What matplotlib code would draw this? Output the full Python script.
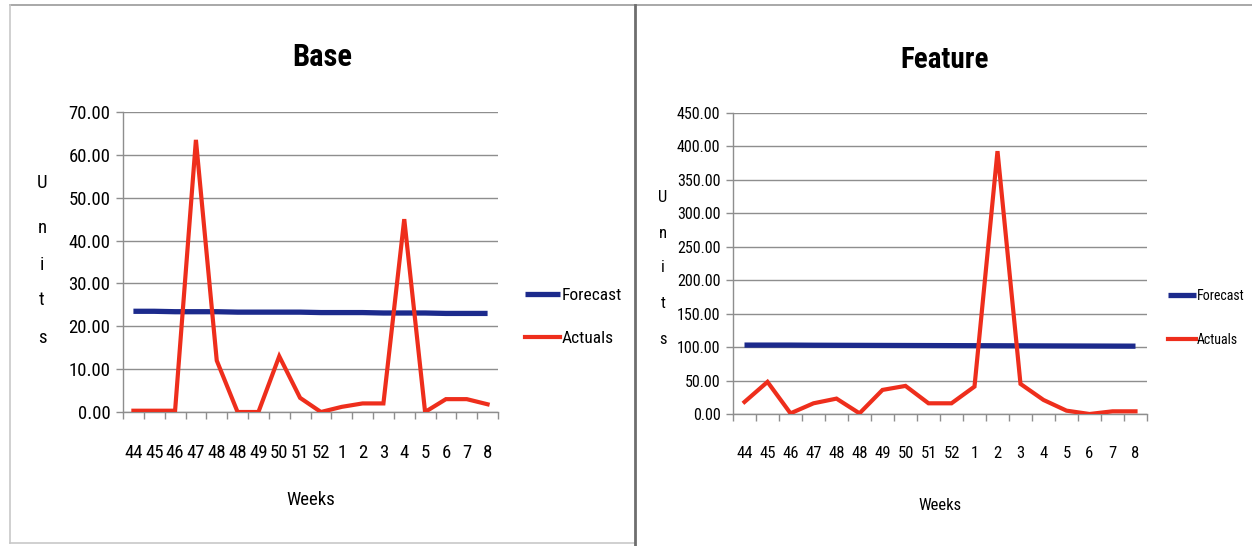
import matplotlib.pyplot as plt
from matplotlib.lines import Line2D

weeks = ['44', '45', '46', '47', '48', '48', '49', '50', '51', '52',
         '1', '2', '3', '4', '5', '6', '7', '8']

base_forecast = [23.5, 23.5, 23.4, 23.4, 23.4, 23.3, 23.3, 23.3, 23.3,
                 23.2, 23.2, 23.2, 23.1, 23.1, 23.1, 23.0, 23.0, 23.0]
base_actuals = [0.3, 0.3, 0.3, 63.5, 12.0, 0.0, 0.0, 13.0, 3.3, 0.0,
                1.2, 2.0, 2.0, 45.0, 0.0, 3.0, 3.0, 1.8]

feature_forecast = [103, 103, 103, 102.8, 102.7, 102.6, 102.5, 102.4, 102.3,
                    102.2, 102.1, 102.0, 101.9, 101.8, 101.7, 101.6, 101.5, 101.4]
feature_actuals = [18, 48, 1, 16, 23, 1, 36, 42, 16, 16,
                   41, 393, 45, 21, 5, 0, 4, 4]

base_yticks = [0, 10, 20, 30, 40, 50, 60, 70]
feature_yticks = [0, 50, 100, 150, 200, 250, 300, 350, 400, 450]

NARROW = ['Roboto Condensed', 'Open Sans Condensed', 'DejaVu Sans Condensed',
          'Lato', 'DejaVu Sans']
BLUE = '#1c2a8c'
RED = '#ee2e1c'
GRID = '#8e8e8e'

W, H = 1252, 546
fig = plt.figure(figsize=(W / 100, H / 100), dpi=100)
fig.patch.set_facecolor('white')


def px_axes(x0, x1, ytop, ybot):
    return fig.add_axes([x0 / W, (H - ybot) / H, (x1 - x0) / W, (ybot - ytop) / H])


def draw_panel(ax, title, forecast, actuals, yticks, xfs, yfs, title_fs, title_xy,
               weeks_y, units_x, units_ys, legend_x, legend_fs, legend_space):
    x = list(range(len(weeks)))
    ax.plot(x, forecast, color=BLUE, lw=3.8, solid_capstyle='butt',
            label='Forecast', zorder=3)
    ax.plot(x, actuals, color=RED, lw=3.0, solid_joinstyle='miter',
            label='Actuals', zorder=4)

    ax.set_xlim(-0.5, len(weeks) - 0.5)
    ax.set_ylim(yticks[0], yticks[-1])
    ax.set_yticks(yticks)
    ax.set_yticklabels(['%.2f' % v for v in yticks], family=NARROW, fontsize=yfs)
    ax.set_xticks(x)
    ax.set_xticklabels(weeks, family=NARROW, fontsize=xfs)
    ax.set_xticks([i - 0.5 for i in range(len(weeks) + 1)], minor=True)
    ax.tick_params(axis='x', which='major', length=0, pad=23)
    ax.tick_params(axis='x', which='minor', length=5, color=GRID, width=1)
    ax.tick_params(axis='y', length=5, color=GRID, width=1, pad=4)

    ax.grid(axis='y', color=GRID, lw=1)
    ax.set_axisbelow(True)
    for side in ('top', 'right'):
        ax.spines[side].set_visible(False)
    for side in ('left', 'bottom'):
        ax.spines[side].set_color(GRID)
        ax.spines[side].set_linewidth(1)

    fig.text(title_xy[0] / W, 1 - title_xy[1] / H, title, ha='center', va='center',
             family=NARROW, fontsize=title_fs, fontweight='bold')
    cx = (ax.get_position().x0 + ax.get_position().x1) / 2
    fig.text(cx, 1 - weeks_y / H, 'Weeks', ha='center', va='center',
             family=NARROW, fontsize=xfs)
    for ch, yy in zip('Units', units_ys):
        fig.text(units_x / W, 1 - yy / H, ch, ha='center', va='center',
                 family=NARROW, fontsize=xfs)

    pos = ax.get_position()
    lx = (legend_x / W - pos.x0) / pos.width
    ax.legend(loc='upper left', bbox_to_anchor=(lx, 0.415), frameon=False,
              prop={'family': NARROW, 'size': legend_fs}, handlelength=2.0,
              handletextpad=0.1, labelspacing=legend_space, borderpad=0,
              borderaxespad=0)


ax1 = px_axes(123, 498, 112, 412)
draw_panel(ax1, 'Base', base_forecast, base_actuals, base_yticks, 13.5, 13.5, 22,
           (322, 57), 500, 42, [183, 228, 265, 300, 338], 525, 12.5, 1.6)

ax2 = px_axes(733, 1147, 113, 414)
draw_panel(ax2, 'Feature', feature_forecast, feature_actuals, feature_yticks, 12, 11.5,
           21, (945, 60), 505, 663, [197, 233, 268, 303, 340], 1168, 10, 2.15)

# panel frames
fig.add_artist(Line2D([10 / W, 1], [1 - 5 / H, 1 - 5 / H], transform=fig.transFigure,
                      color='#9a9a9a', lw=1.2))
fig.add_artist(Line2D([10 / W, 10 / W], [1 - 5 / H, 1 - 543 / H], color='#c8c8c8',
                      lw=1.2, transform=fig.transFigure))
fig.add_artist(Line2D([10 / W, 635 / W], [1 - 543 / H, 1 - 543 / H], color='#c8c8c8',
                      lw=1.2, transform=fig.transFigure))
fig.add_artist(Line2D([635 / W, 635 / W], [1 - 5 / H, 0], transform=fig.transFigure,
                      color='#6e6e6e', lw=2))

fig.savefig('out.png', dpi=100, facecolor='white')
